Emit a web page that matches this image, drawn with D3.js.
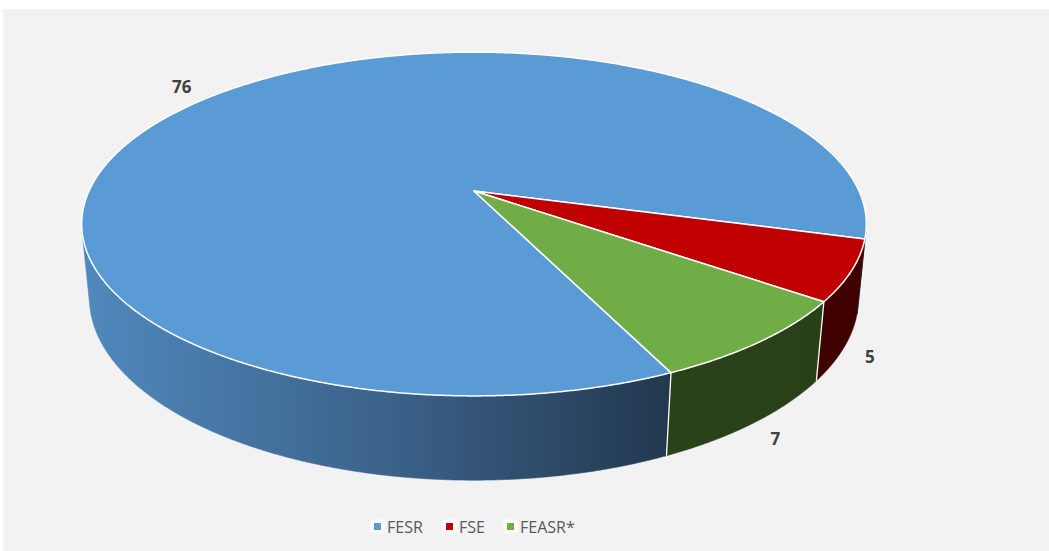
<!DOCTYPE html>
<html>
<head>
<meta charset="utf-8">
<script src="https://cdn.jsdelivr.net/npm/d3@7"></script>
<style>
  html, body { margin: 0; padding: 0; background: #ffffff; }
  svg { display: block; }
</style>
</head>
<body>
<svg id="chart" width="1049" height="551"></svg>
<script>
// Fund shares (values shown on the slices)
const categories = ["FESR", "FSE", "FEASR*"];
const values = [76, 5, 7];
const labels = ["76", "5", "7"];

// Colours: top face and side wall (left → right shade)
const topColors = ["#5b9bd5", "#c00000", "#70ad47"];
const wallColors = [
  ["#5089bd", "#3b6189", "#22384f", "#1f3247"],
  ["#4d0000", "#4a0000", "#450000", "#400000"],
  ["#2d481b", "#2c4619", "#2a4219", "#283f18"]
];

const svg = d3.select("#chart");
const W = 1049, H = 551;

// chart panel
svg.append("rect")
  .attr("x", 3).attr("y", 9).attr("width", W - 3).attr("height", H - 9)
  .attr("fill", "#f2f2f2");

// ---- 3D perspective camera for a tilted disc ----
const cx = 474, cy = 191;           // projected disc centre
const focal = 1809.5;               // focal length × scale
const dist = 4.70;                  // camera distance (disc radius = 1)
const tilt = Math.asin(0.43);       // elevation of the camera
const thickness = 0.212;            // disc height
const ct = Math.cos(tilt), st = Math.sin(tilt);

function project(X, Y, Z) {
  const v = Y * ct - Z * st;
  const d = dist - (Z * ct + Y * st);
  return [cx + focal * X / d, cy - focal * v / d];
}
// d3 pie angle (0 = 12 o'clock, clockwise) → point on the disc
function rim(theta, r, Y) {
  return project(r * Math.sin(theta), Y, -r * Math.cos(theta));
}

const start = 155 * Math.PI / 180;
const pie = d3.pie().sort(null).value(d => d)
  .startAngle(start).endAngle(start + 2 * Math.PI);
const arcs = pie(values);

const line = d3.line();
const STEP = Math.PI / 720;
function arcPoints(a0, a1, Y) {
  const n = Math.max(2, Math.ceil((a1 - a0) / STEP));
  return d3.range(n + 1).map(i => rim(a0 + (a1 - a0) * i / n, 1, Y));
}

// gradients for the walls
const defs = svg.append("defs");
wallColors.forEach((cols, i) => {
  const g = defs.append("linearGradient")
    .attr("id", "wall" + i)
    .attr("gradientUnits", "userSpaceOnUse")
    .attr("x1", 81).attr("x2", 866).attr("y1", 0).attr("y2", 0);
  [0, 0.4, 0.75, 1].forEach((o, k) => {
    g.append("stop").attr("offset", o).attr("stop-color", cols[k]);
  });
});

// visible (front-facing) part of the outer wall
const kFace = Math.acos(-1 / (dist * ct));
const faceRanges = [
  [kFace, 2 * Math.PI - kFace],
  [kFace + 2 * Math.PI, 4 * Math.PI - kFace]
];

const walls = svg.append("g");
arcs.forEach((a, i) => {
  faceRanges.forEach(([f0, f1]) => {
    const a0 = Math.max(a.startAngle, f0), a1 = Math.min(a.endAngle, f1);
    if (a1 <= a0) return;
    const pts = arcPoints(a0, a1, 0).concat(arcPoints(a0, a1, -thickness).reverse());
    walls.append("path")
      .attr("d", line(pts) + "Z")
      .attr("fill", `url(#wall${i})`)
      .attr("stroke", `url(#wall${i})`)
      .attr("stroke-width", 0.6);
  });
});
// white seams between slices on the wall (skipped right at the silhouette)
arcs.forEach(a => {
  const t = a.startAngle % (2 * Math.PI);
  if (t > kFace + 0.1 && t < 2 * Math.PI - kFace - 0.1) {
    walls.append("path")
      .attr("d", line([rim(t, 1, 0), rim(t, 1, -thickness)]))
      .attr("stroke", "#ffffff").attr("stroke-width", 1.3).attr("fill", "none");
  }
});

// top faces
const tops = svg.append("g");
arcs.forEach((a, i) => {
  const pts = [project(0, 0, 0)].concat(arcPoints(a.startAngle, a.endAngle, 0));
  tops.append("path")
    .attr("d", line(pts) + "Z")
    .attr("fill", topColors[i])
    .attr("stroke", "#ffffff")
    .attr("stroke-width", 1.5)
    .attr("stroke-linejoin", "round");
});

// value labels just outside each slice
const labelG = svg.append("g")
  .attr("font-family", "'Open Sans', 'Liberation Sans', sans-serif")
  .attr("font-weight", "bold").attr("font-size", 17).attr("fill", "#404040");
arcs.forEach((a, i) => {
  const mid = (a.startAngle + a.endAngle) / 2;
  const front = -Math.cos(mid) > 0;
  const r = front ? 1.065 : 1.14;
  const p = rim(mid, r, front ? -thickness * 1.04 : -0.01);
  labelG.append("text")
    .attr("x", p[0]).attr("y", p[1])
    .attr("text-anchor", "middle").attr("dominant-baseline", "central")
    .text(labels[i]);
});

// legend
const legend = svg.append("g")
  .attr("font-family", "'Open Sans', 'Liberation Sans', sans-serif")
  .attr("font-size", 16).attr("fill", "#595959");
const legendX = [374, 446, 507];
categories.forEach((c, i) => {
  const g = legend.append("g").attr("transform", `translate(${legendX[i]},526)`);
  g.append("rect").attr("x", -3.5).attr("y", -6.5).attr("width", 14).attr("height", 14)
    .attr("rx", 2).attr("fill", "#ffffff");
  g.append("rect").attr("x", 0).attr("y", -3).attr("width", 7).attr("height", 7)
    .attr("fill", topColors[i]);
  g.append("text").attr("x", 13).attr("y", 0.5)
    .attr("dominant-baseline", "central").text(c);
});
</script>
</body>
</html>
